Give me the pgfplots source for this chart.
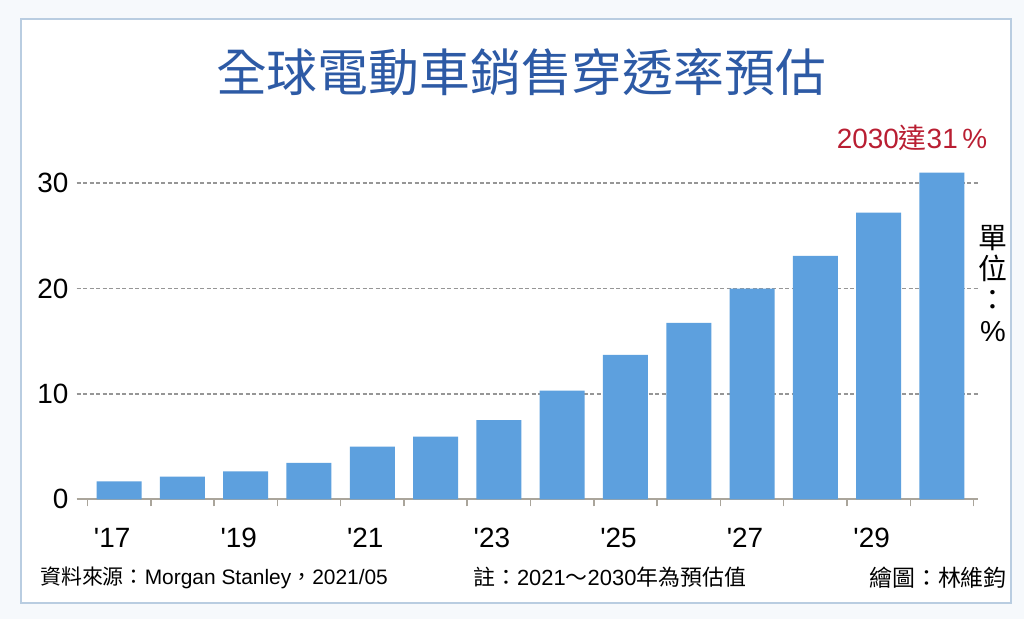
\documentclass[border=0pt]{standalone}
\usepackage{pgfplots}
\pgfplotsset{compat=1.18}
\usepackage{fontspec}
\setmainfont{Liberation Sans}
\newfontfamily\cjk{Noto Sans CJK TC}
\newfontfamily\lat{Liberation Sans}
\definecolor{barblue}{RGB}{93,160,222}
\definecolor{titleblue}{RGB}{45,90,165}
\definecolor{redtxt}{RGB}{185,30,50}
\definecolor{framec}{RGB}{185,205,225}
\definecolor{bgc}{RGB}{246,249,252}
\definecolor{axisc}{RGB}{170,165,155}
\definecolor{gridc}{RGB}{150,150,150}
\begin{document}
\begin{tikzpicture}[x=1bp,y=1bp]
\fill[bgc] (0,0) rectangle (1024,619);
\filldraw[fill=white, draw=framec, line width=2bp] (21,16) rectangle (1011,600);
\begin{axis}[
  at={(76.7bp,119.7bp)}, anchor=south west,
  scale only axis, width=901.3bp, height=347.8bp,
  xmin=-0.67, xmax=13.57, ymin=0, ymax=33,
  axis x line*=bottom, axis y line*=left,
  y axis line style={draw=none},
  x axis line style={axisc, line width=2bp},
  ytick={10,20,30},
  extra y ticks={0}, extra y tick style={grid=none},
  ymajorgrids,
  grid style={gridc, line width=1.4bp, dash pattern=on 4bp off 2.5bp},
  xtick={0,2,...,12},
  xticklabels={'17,'19,'21,'23,'25,'27,'29},
  minor xtick={-0.5,0.5,...,13.5},
  major tick length=0pt,
  minor tick length=7bp,
  tick align=outside,
  minor x tick style={axisc, line width=1.5bp},
  /pgf/number format/assume math mode=true,
  yticklabel style={font=\lat\fontsize{28}{28}\selectfont, inner sep=0pt, xshift=-8bp},
  xticklabel style={font=\lat\fontsize{28}{28}\selectfont, inner sep=0pt, anchor=north, yshift=-29bp, xshift=-7bp},
]
\addplot[ybar, bar width=45bp, fill=barblue, draw=none] coordinates {
(0,1.7) (1,2.15) (2,2.65) (3,3.45) (4,5.0) (5,5.95) (6,7.5)
(7,10.3) (8,13.7) (9,16.75) (10,20.0) (11,23.1) (12,27.2) (13,31.0)};
\end{axis}
\node[text=titleblue, font=\cjk\fontsize{51}{51}\selectfont, inner sep=0pt] at (521,546.5) {全球電動車銷售穿透率預估};
\node[text=redtxt, font=\lat\fontsize{28}{28}\selectfont, inner sep=0pt] at (912,481) {2030{\cjk 達}31\,\%};
\node[font=\cjk\fontsize{29}{31}\selectfont, align=center, inner sep=0pt] at (993,335.5) {單\\位\\：\\{\lat\%}};
\node[font=\lat\fontsize{21}{21}\selectfont, anchor=west, inner sep=0pt] at (40,41.5) {{\cjk 資料來源：}Morgan Stanley{\cjk ，}2021/05};
\node[font=\lat\fontsize{22}{22}\selectfont, anchor=west, inner sep=0pt] at (473,41.5) {{\cjk 註：}2021{\cjk ～}2030{\cjk 年為預估值}};
\node[font=\cjk\fontsize{23}{23}\selectfont, anchor=east, inner sep=0pt] at (1007,41.5) {繪圖：林維鈞};
\end{tikzpicture}
\end{document}
